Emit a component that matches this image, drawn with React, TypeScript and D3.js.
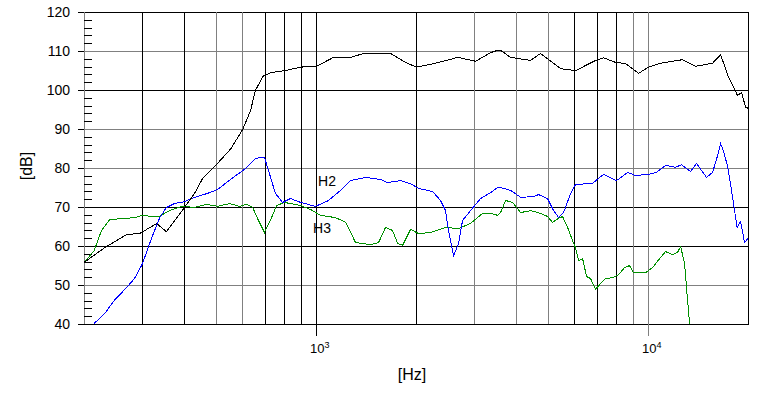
import React from "react";
import * as d3 from "d3";

// Fundamental response (black)
const freqMain = [200, 230, 268, 293, 330, 353, 368, 400, 429, 454, 503, 551, 599, 633, 655, 664, 688, 727, 806, 895, 1000, 1125, 1257, 1385, 1671, 1854, 2000, 2205, 2413, 2659, 3013, 3343, 3509, 3583, 3840, 4412, 4728, 5432, 6027, 6924, 7319, 7954, 8525, 9330, 10000, 10870, 12660, 13850, 15590, 16480, 17420, 18540, 19060, 19600, 20000];
const dbMain = [56, 59.7, 63.1, 63.3, 65.9, 63.8, 65.9, 70, 73.6, 77.5, 81.3, 85, 90, 94.9, 100.2, 101, 103.6, 104.6, 105.1, 106, 106.2, 108.5, 108.4, 109.5, 109.5, 107.2, 106, 106.7, 107.5, 108.5, 107.5, 109.7, 110.3, 110.3, 108.5, 107.7, 109.5, 105.6, 105.1, 107.7, 108.4, 107.2, 106.9, 104.4, 106, 107, 107.9, 106.2, 107, 109.2, 103.4, 98.7, 99.5, 95.7, 95.4];

// H2 (blue)
const freqH2 = [214, 230, 246, 268, 283, 299, 318, 337, 353, 373, 400, 429, 469, 503, 547, 611, 655, 678, 697, 727, 752, 790, 835, 895, 993, 1087, 1181, 1266, 1405, 1559, 1636, 1791, 1920, 2029, 2236, 2363, 2446, 2498, 2586, 2677, 2753, 2910, 3119, 3343, 3509, 3583, 3840, 4117, 4504, 4663, 4963, 5138, 5357, 5546, 5822, 6027, 6781, 7319, 8010, 8646, 9138, 10000, 10570, 11250, 12060, 12570, 13380, 13950, 14950, 15590, 16140, 16480, 16820, 17300, 17660, 18100, 18480, 18930, 19460, 20000];
const dbH2 = [40.3, 42.8, 46.2, 49.5, 51.8, 55.6, 62, 67.4, 70, 71, 71.5, 72.6, 73.6, 74.6, 77, 80, 82.6, 82.8, 82.8, 77.7, 73.6, 71.3, 72.3, 71.3, 70.3, 71.8, 74.4, 76.9, 77.7, 77.2, 76.4, 76.9, 76.1, 74.9, 74.1, 71.8, 69.2, 64, 57.6, 60.8, 66.7, 69.2, 72.3, 73.8, 75.1, 75.1, 74.4, 72.6, 72.8, 73.3, 72.3, 69.7, 67.4, 68.7, 73.6, 75.9, 76.2, 78.5, 76.9, 79, 78.2, 78.5, 79, 80.8, 80.3, 81, 79.2, 81.3, 77.7, 79, 83.3, 86.4, 84.5, 80.5, 76, 70, 64.9, 66.4, 61, 62.3];

// H3 (green)
const freqH3 = [200, 214, 225, 238, 264, 283, 299, 318, 337, 348, 368, 395, 429, 466, 503, 547, 586, 615, 642, 664, 697, 732, 758, 801, 895, 959, 1028, 1141, 1223, 1266, 1311, 1454, 1537, 1614, 1694, 1754, 1816, 1920, 2029, 2205, 2446, 2677, 2910, 3162, 3343, 3509, 3583, 3710, 3894, 4117, 4412, 4728, 4963, 5138, 5357, 5508, 5702, 5903, 6027, 6155, 6328, 6506, 6688, 6829, 6924, 7168, 7421, 7792, 8120, 8468, 8766, 9012, 9795, 10280, 10870, 11250, 11810, 12230, 12490, 12840, 13010, 13290];
const dbH3 = [56, 59, 64.1, 66.9, 67.2, 67.4, 68, 67.7, 67.7, 68.5, 69.5, 70.3, 70, 70.8, 70.3, 71, 70.3, 70.8, 70, 67.2, 63.6, 67.4, 70.5, 71.3, 70.5, 69.5, 68, 67.4, 66.2, 63.6, 61, 60.5, 61, 64.9, 64.1, 60.8, 60.3, 64.4, 63.3, 63.6, 64.9, 64.6, 65.9, 68.5, 68.5, 68, 68.7, 71.8, 71.3, 68.7, 69.2, 68.5, 67.7, 66.2, 67.2, 67.7, 64.9, 61.5, 59.7, 56.4, 56.9, 52.3, 51.8, 50, 49, 50.5, 51.8, 52, 52.8, 54.6, 55.1, 53.3, 53.3, 54.6, 57.2, 58.7, 57.9, 58.5, 60, 55.6, 49.5, 40.2];

const yTicks = [40, 50, 60, 70, 80, 90, 100, 110, 120];
const yDarkLines = [40, 60, 70, 100, 120];
const xGridDark = [300, 400, 700, 800, 900, 1000, 2000, 6000, 7000, 8000];
const xGridLight = [500, 600, 3000, 4000, 5000, 9000, 10000];
const xDecades = [{ f: 1000, exp: "3", dark: true }, { f: 10000, exp: "4", dark: false }];

const W = 770, H = 393;
const L = 84, R = 748, T = 12, B = 324;
const FONT = "'Liberation Sans', Arial, sans-serif";

export default function App() {
  const x = d3.scaleLog().domain([200, 20000]).range([L, R]);
  const y = d3.scaleLinear().domain([40, 120]).range([B, T]);
  const px = (v: number) => Math.round(v) + 0.5;

  const mk = (fs: number[], ds: number[]) =>
    d3.line<number>().x((_, i) => x(fs[i]) + 0.5).y((_, i) => y(ds[i]) + 0.5)(fs)!;

  const minor: number[] = [];
  for (let v = 42; v < 120; v += 2) if (v % 10 !== 0) minor.push(v);

  return (
    <svg width={W} height={H} style={{ position: "absolute", left: 0, top: 0, background: "#fff" }}>
      <rect x={0} y={0} width={W} height={H} fill="#fff" />
      {/* horizontal grid */}
      {yTicks.map((v) => (
        <line key={"h" + v} x1={L} x2={R} y1={px(y(v))} y2={px(y(v))}
          stroke={yDarkLines.includes(v) ? "#000" : "#808080"} strokeWidth={1} />
      ))}
      {/* vertical grid */}
      {xGridLight.map((f) => (
        <line key={"vl" + f} x1={px(x(f))} x2={px(x(f))} y1={T} y2={B} stroke="#808080" strokeWidth={1} />
      ))}
      {xGridDark.map((f) => (
        <line key={"vd" + f} x1={px(x(f))} x2={px(x(f))} y1={T} y2={B} stroke="#000" strokeWidth={1} />
      ))}
      {/* frame */}
      <line x1={px(L)} x2={px(L)} y1={T} y2={B} stroke="#808080" />
      <line x1={px(R)} x2={px(R)} y1={T} y2={B} stroke="#000" />
      <line x1={L} x2={R + 1} y1={px(B)} y2={px(B)} stroke="#000" />
      {/* y ticks */}
      {yTicks.map((v) => (
        <g key={"yt" + v}>
          <line x1={78} x2={L} y1={px(y(v))} y2={px(y(v))} stroke="#000" />
          <text x={70} y={y(v)} textAnchor="end" dominantBaseline="central"
            fontFamily={FONT} fontSize={14} fill="#000">{v}</text>
        </g>
      ))}
      {minor.map((v) => (
        <line key={"m" + v} x1={L} x2={L + 8} y1={px(y(v))} y2={px(y(v))} stroke="#000" />
      ))}
      {/* x decade ticks */}
      {xDecades.map((d) => (
        <g key={"xd" + d.f}>
          <line x1={px(x(d.f))} x2={px(x(d.f))} y1={B} y2={B + 12} stroke={d.dark ? "#000" : "#808080"} />
          <text x={x(d.f) - 6} y={353} fontFamily={FONT} fontSize={13} fill="#000">
            <tspan>10</tspan>
            <tspan dy={-5} fontSize={9}>{d.exp}</tspan>
          </text>
        </g>
      ))}
      {/* curves */}
      <g shapeRendering="crispEdges">
        <path d={mk(freqH3, dbH3)} fill="none" stroke="#009000" strokeWidth={1} />
        <path d={mk(freqH2, dbH2)} fill="none" stroke="#0000ff" strokeWidth={1} />
        <path d={mk(freqMain, dbMain)} fill="none" stroke="#000" strokeWidth={1} />
      </g>
      {/* labels */}
      <text x={327} y={181} textAnchor="middle" dominantBaseline="central" fontFamily={FONT} fontSize={14} fill="#000">H2</text>
      <text x={322} y={227.5} textAnchor="middle" dominantBaseline="central" fontFamily={FONT} fontSize={14} fill="#000">H3</text>
      <text x={412} y={374} textAnchor="middle" dominantBaseline="central" fontFamily={FONT} fontSize={16} fill="#000">[Hz]</text>
      <text transform="translate(26,166) rotate(-90)" textAnchor="middle" dominantBaseline="central"
        fontFamily={FONT} fontSize={16} fill="#000">[dB]</text>
    </svg>
  );
}
